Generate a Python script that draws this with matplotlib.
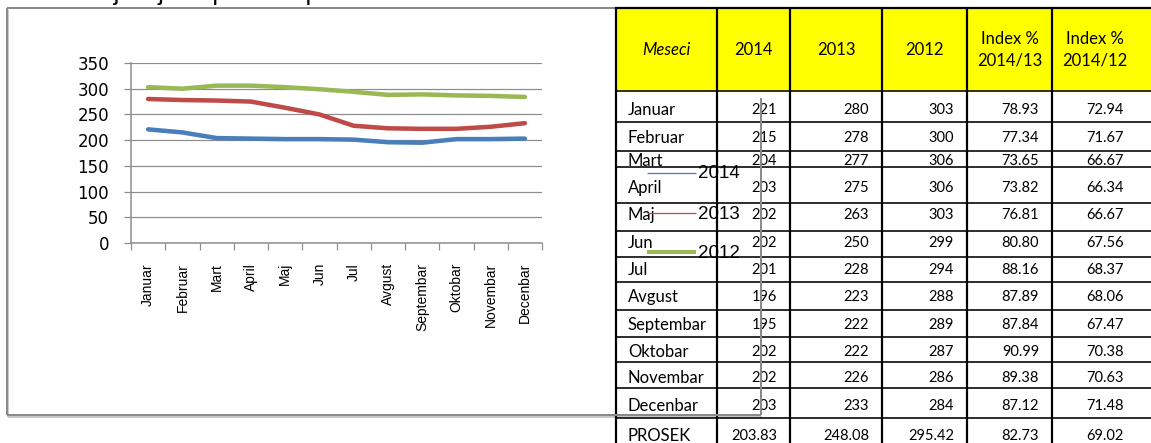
import matplotlib
matplotlib.use("Agg")
import matplotlib.pyplot as plt
import numpy as np

# ---------------- data ----------------
months = ["Januar", "Februar", "Mart", "April", "Maj", "Jun", "Jul",
          "Avgust", "Septembar", "Oktobar", "Novembar", "Decenbar"]
v2014 = [221, 215, 204, 203, 202, 202, 201, 196, 195, 202, 202, 203]
v2013 = [280, 278, 277, 275, 263, 250, 228, 223, 222, 222, 226, 233]
v2012 = [303, 300, 306, 306, 303, 299, 294, 288, 289, 287, 286, 284]
idx_13 = ["78.93", "77.34", "73.65", "73.82", "76.81", "80.80", "88.16",
          "87.89", "87.84", "90.99", "89.38", "87.12"]
idx_12 = ["72.94", "71.67", "66.67", "66.34", "66.67", "67.56", "68.37",
          "68.06", "67.47", "70.38", "70.63", "71.48"]
prosek = ["203.83", "248.08", "295.42", "82.73", "69.02"]
header = ["Meseci", "2014", "2013", "2012", "Index %\n2014/13", "Index %\n2014/12"]
series_names = ["2014", "2013", "2012"]
yticks = [0, 50, 100, 150, 200, 250, 300, 350]
title_text = "Kretanje cijena pšenice po mesecima"

colors = ["#4A7EBB", "#BE4B48", "#98B954"]

W, H = 1151, 443
fig = plt.figure(figsize=(W / 100, H / 100), dpi=100)

# overlay axes in pixel coordinates
ov = fig.add_axes([0, 0, 1, 1], zorder=1)
ov.set_xlim(0, W)
ov.set_ylim(H, 0)
ov.axis("off")

def px(v):  # pixels -> points
    return v * 72 / 100

# ---------------- chart frame ----------------
frame_c = "#8A8A8A"
shadow_c = "#C8C8C8"
ov.plot([8.5, 8.5], [9.5, 416.5], color=shadow_c, lw=px(2), zorder=1, solid_capstyle="butt")
ov.plot([8.5, 762.5], [416.5, 416.5], color=shadow_c, lw=px(2), zorder=1, solid_capstyle="butt")
ov.plot([7, 7], [8, 415], color=frame_c, lw=px(2), zorder=1.5, solid_capstyle="butt")
ov.plot([7, 616], [8, 8], color=frame_c, lw=px(2), zorder=1.5, solid_capstyle="butt")
ov.plot([7, 761], [415, 415], color=frame_c, lw=px(2), zorder=5, solid_capstyle="butt")
ov.plot([761, 761], [98, 415], color=frame_c, lw=px(2), zorder=5, solid_capstyle="butt")

# title, mostly above the visible area as in the reference
ov.text(40, -0.5, title_text, fontsize=18, family="Liberation Sans",
        va="baseline", ha="left", color="black")

# ---------------- chart ----------------
ax_l, ax_r, ax_t, ax_b = 131, 542, 63, 243
ax = fig.add_axes([ax_l / W, (H - ax_b) / H, (ax_r - ax_l) / W, (ax_b - ax_t) / H], zorder=2)
ax.set_facecolor("none")
x = np.arange(len(months))
for vals, c in zip([v2014, v2013, v2012], colors):
    ax.plot(x, vals, color=c, lw=px(4.5), solid_joinstyle="round", solid_capstyle="round")
ax.set_xlim(-0.5, len(months) - 0.5)
ax.set_ylim(0, 350)
ax.set_yticks(yticks)
ax.yaxis.grid(True, color="#8C8C8C", lw=px(1.2))
ax.set_axisbelow(True)
for s in ["top", "right"]:
    ax.spines[s].set_visible(False)
for s in ["left", "bottom"]:
    ax.spines[s].set_color("#8C8C8C")
    ax.spines[s].set_linewidth(px(1.5))
ax.tick_params(axis="y", length=5, width=px(1.2), color="#8C8C8C", pad=px(15),
               labelsize=12)
for lab in ax.get_yticklabels():
    lab.set_family("DejaVu Sans")
ax.set_xticks(x)
ax.set_xticklabels(months, rotation=90, family="Liberation Sans", fontsize=10)
ax.set_xticks(np.arange(len(months) + 1) - 0.5, minor=True)
ax.tick_params(axis="x", which="major", length=0, pad=px(20))
ax.tick_params(axis="x", which="minor", length=5, width=px(1.2), color="#8C8C8C")

# ---------------- table ----------------
col_x = [616, 717, 790, 882, 967, 1052, 1137]
row_y = [91, 122, 151, 167, 203, 231, 257, 282, 310, 337, 362, 388, 418, 460]
text_y = [110, 138, 161, 188, 215, 243, 270, 297, 325, 352, 378, 406]
prosek_y = 436
top_y = 8

ov.add_patch(plt.Rectangle((col_x[0], top_y), W - col_x[0] + 2, row_y[0] - top_y,
                           facecolor="#FFFF00", edgecolor="none", zorder=2))
# vertical lines
for cx in col_x[:-1]:
    ov.plot([cx, cx], [top_y, H + 5], color="black", lw=px(2.2), zorder=3,
            solid_capstyle="butt")
# horizontal lines
ov.plot([col_x[0], W + 2], [top_y, top_y], color="black", lw=px(2.2), zorder=3)
for ry in row_y:
    ov.plot([col_x[0], W + 2], [ry, ry], color="black", lw=px(1.6), zorder=3)

tfont = "Lato"
# header
for i, h in enumerate(header):
    cx = (col_x[i] + col_x[i + 1]) / 2
    ov.text(cx, 50, h, ha="center", va="center", fontsize=12, family=tfont,
            style="italic" if i == 0 else "normal", linespacing=1.45, zorder=4)

# body
for r, m in enumerate(months):
    ty = text_y[r]
    ov.text(628, ty, m, ha="left", va="center", fontsize=12, family=tfont, zorder=4)
    vals = [str(v2014[r]), str(v2013[r]), str(v2012[r]), idx_13[r], idx_12[r]]
    for j, s in enumerate(vals):
        ov.text(col_x[j + 2] - 13, ty, s, ha="right", va="center", fontsize=10.5,
                family=tfont, zorder=4)
ov.text(628, prosek_y, "PROSEK", ha="left", va="center", fontsize=12, family=tfont, zorder=4)
for j, s in enumerate(prosek):
    ov.text(col_x[j + 2] - 13, prosek_y, s, ha="right", va="center", fontsize=10.5,
            family=tfont, zorder=4)

# ---------------- legend (overlapping table) ----------------
leg_y = [173, 213, 252]
leg_w = [px(1.3), px(1.3), px(4)]
for name, c, ly, lw in zip(series_names, colors, leg_y, leg_w):
    ov.plot([647, 696], [ly, ly], color=c, lw=lw, zorder=6, solid_capstyle="butt")
    ov.text(698, ly + 1, name, ha="left", va="center", fontsize=13.5,
            family="Liberation Sans", zorder=6)

fig.savefig("out.png", dpi=100)
